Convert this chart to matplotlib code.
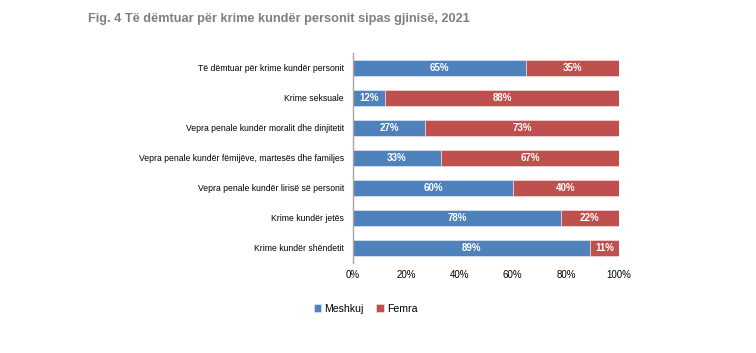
import matplotlib.pyplot as plt
import numpy as np

plt.rcParams['font.family'] = ['Liberation Sans', 'DejaVu Sans']

categories = [
    'Të dëmtuar për krime kundër personit',
    'Krime seksuale',
    'Vepra penale kundër moralit dhe dinjitetit',
    'Vepra penale kundër fëmijëve, martesës dhe familjes',
    'Vepra penale kundër lirisë së personit',
    'Krime kundër jetës',
    'Krime kundër shëndetit',
]
meshkuj = [65, 12, 27, 33, 60, 78, 89]
femra = [35, 88, 73, 67, 40, 22, 11]
xticks = [0, 20, 40, 60, 80, 100]

blue = '#4F81BD'
red = '#C0504D'

fig = plt.figure(figsize=(7.56, 3.53), dpi=100)
ax = fig.add_axes([0.467, 0.255, 0.352, 0.595])

y = np.arange(len(categories))
h = 0.55
b1 = ax.barh(y, meshkuj, height=h, color=blue, edgecolor='#dfe6f0', linewidth=0.5, label='Meshkuj')
b2 = ax.barh(y, femra, left=meshkuj, height=h, color=red, edgecolor='#f0dede', linewidth=0.5, label='Femra')

for i in range(len(categories)):
    ax.text(meshkuj[i] / 2, y[i], f'{meshkuj[i]}%', ha='center', va='center',
            color='white', fontsize=7, fontweight='bold')
    ax.text(meshkuj[i] + femra[i] / 2, y[i], f'{femra[i]}%', ha='center', va='center',
            color='white', fontsize=7, fontweight='bold')

ax.set_xlim(0, 100)
ax.set_ylim(len(categories) - 0.5, -0.5)
ax.set_yticks(y)
ax.set_yticklabels(categories, fontsize=6.25)
ax.set_xticks(xticks)
ax.set_xticklabels([f'{v}%' for v in xticks], fontsize=7)
ax.tick_params(axis='y', length=0, pad=6.5)
ax.tick_params(axis='x', length=0, pad=5)
for s in ['top', 'right', 'bottom']:
    ax.spines[s].set_visible(False)
ax.spines['left'].set_color('#a6a6a6')
ax.spines['left'].set_linewidth(1)

fig.text(0.116, 0.945, 'Fig. 4 Të dëmtuar për krime kundër personit sipas gjinisë, 2021',
         fontsize=9.2, fontweight='bold', color='#7f7f7f', va='center')

fig.legend(handles=[b1, b2], labels=['Meshkuj', 'Femra'], loc='center',
           bbox_to_anchor=(0.4835, 0.125), ncol=2, frameon=False, fontsize=7.6,
           handlelength=0.7, handleheight=0.7, handletextpad=0.3, columnspacing=1.2)

fig.savefig('out.png', dpi=100)
